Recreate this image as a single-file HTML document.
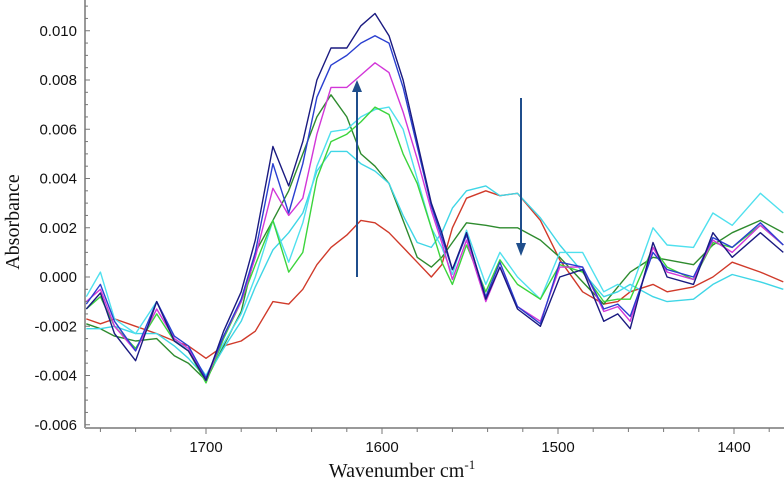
<!DOCTYPE html>
<html><head><meta charset="utf-8"><style>
body{margin:0;background:#fff}
svg{display:block}
.t{font-family:"Liberation Sans",Arial,sans-serif;font-size:15px;fill:#111}
.s{font-family:"Liberation Serif","Times New Roman",serif;font-size:20px;fill:#111}
</style></head><body>
<svg id="c" width="784" height="484"></svg>
<script>
const wn=[1768,1760,1752,1740,1728,1718,1710,1700,1690,1680,1672,1662,1653,1645,1637,1629,1620,1612,1604,1596,1588,1580,1572,1566,1560,1552,1541,1533,1523,1510,1499,1486,1474,1466,1459,1446,1438,1423,1412,1401,1385,1372];
const navy=[-1.3,-0.65,-2.3,-3.4,-1.0,-2.6,-3.0,-4.2,-2.2,-0.6,1.5,5.3,3.7,5.5,8.0,9.3,9.3,10.2,10.7,9.8,8.0,5.5,3.0,1.8,0.3,1.8,-0.9,0.4,-1.3,-2.0,0.0,0.3,-1.8,-1.5,-2.1,1.4,0.0,-0.3,1.8,0.8,1.8,1.0];
const blue=[-1.1,-0.3,-1.8,-3.0,-1.0,-2.4,-2.8,-4.1,-2.4,-0.9,1.0,4.6,2.6,4.6,7.3,8.6,9.0,9.5,9.8,9.5,7.7,5.3,2.9,1.6,0.3,1.7,-0.8,0.6,-1.2,-1.9,0.6,0.4,-1.3,-1.1,-1.6,1.0,0.3,0.0,1.6,1.2,2.2,1.3];
const magenta=[-1.0,-0.5,-2.0,-3.0,-1.3,-2.5,-2.9,-4.2,-2.4,-1.0,0.8,3.6,2.5,3.2,5.8,7.7,7.7,8.2,8.7,8.3,6.7,4.8,2.7,1.4,-0.1,1.5,-1.0,0.4,-1.2,-1.8,0.4,0.4,-1.4,-1.2,-1.8,1.2,0.2,-0.1,1.5,1.0,2.1,1.3];
const green=[-1.3,-0.8,-2.0,-2.9,-1.5,-2.6,-3.0,-4.3,-2.5,-1.0,0.5,2.3,0.2,1.0,4.0,5.5,5.8,6.3,6.9,6.6,5.0,3.8,2.0,0.6,-0.3,1.3,-0.6,0.7,-0.3,-0.9,0.5,0.2,-1.0,-0.9,-0.9,1.2,0.4,-0.1,1.4,1.2,2.1,1.3];
const cyan1=[-0.8,0.2,-1.7,-2.3,-1.0,-2.5,-3.0,-4.0,-2.7,-1.5,0.0,2.3,0.6,2.2,4.5,5.9,6.0,6.5,6.8,6.9,6.0,4.0,2.0,1.2,0.1,1.9,-0.3,1.0,0.0,-0.9,1.0,1.0,-0.6,-0.3,-0.6,2.0,1.3,1.2,2.6,2.1,3.4,2.6];
const cyan2=[-2.1,-2.1,-2.0,-2.3,-2.3,-2.8,-3.3,-4.1,-2.9,-1.8,-0.4,1.1,1.8,2.6,4.3,5.1,5.1,4.6,4.3,3.8,2.5,1.4,1.2,1.8,2.8,3.5,3.7,3.3,3.4,2.4,1.3,0.2,-0.8,-0.6,-0.3,-0.8,-1.0,-0.9,-0.3,0.1,-0.2,-0.5];
const darkgreen=[-1.9,-2.1,-2.4,-2.6,-2.5,-3.2,-3.5,-4.2,-2.8,-1.4,1.0,2.3,3.5,5.0,6.5,7.4,6.5,5.0,4.5,3.8,2.3,0.8,0.4,0.8,1.4,2.2,2.1,2.0,2.0,1.5,0.8,-0.2,-1.1,-0.4,0.2,0.8,0.7,0.5,1.3,1.8,2.3,1.8];
const red=[-1.7,-1.9,-1.7,-2.0,-2.3,-2.6,-2.8,-3.3,-2.8,-2.6,-2.2,-1.0,-1.1,-0.5,0.5,1.2,1.7,2.3,2.2,1.8,1.2,0.6,0.0,0.5,2.0,3.2,3.5,3.3,3.4,2.3,0.7,-0.6,-1.1,-1.0,-0.6,-0.3,-0.6,-0.4,0.0,0.6,0.2,-0.2];
const yTicks=["-0.006","-0.004","-0.002","0.000","0.002","0.004","0.006","0.008","0.010"];
const xTicks=[1700,1600,1500,1400];
const series=[["red-series",red,"#d03a2a"],["dark-green-series",darkgreen,"#2e8b2e"],["cyan-lower-series",cyan2,"#3fd6e6"],["cyan-upper-series",cyan1,"#4fe0ee"],["green-series",green,"#3cd43c"],["magenta-series",magenta,"#d236d8"],["blue-series",blue,"#2a3fd0"],["navy-series",navy,"#1a1a80"]];
const NS="http://www.w3.org/2000/svg",svg=document.getElementById('c');
const X0=85,Y0=428;
function xs(w){return 206+(1700-w)*1.76;}
function ys(v){return 277-v*24.625;}
function mk(t,a,p){const e=document.createElementNS(NS,t);for(const k in a)e.setAttribute(k,a[k]);(p||svg).appendChild(e);return e;}
const defs=mk('defs',{});
const cp=mk('clipPath',{id:'cl'},defs);mk('rect',{x:X0,y:0,width:784-X0,height:Y0},cp);
const g=mk('g',{'clip-path':'url(#cl)'});
series.forEach(s=>{
  const d=wn.map((w,i)=>(i?'L':'M')+xs(w).toFixed(1)+','+ys(s[1][i]).toFixed(1)).join(' ');
  const p=mk('path',{d:d,fill:'none',stroke:s[2],'stroke-width':1.4,'stroke-linejoin':'round'},g);
  
  
});
const ax=mk('line',{x1:X0,y1:0,x2:X0,y2:Y0,stroke:'#999','stroke-width':2});


const axx=mk('line',{x1:X0,y1:Y0,x2:784,y2:Y0,stroke:'#999','stroke-width':2});


for(let v=-6;v<=11;v+=0.5){const y=ys(v);if(y<0)continue;mk('line',{x1:X0,y1:y,x2:X0+(Math.abs(v%2)<0.01?5:3),y2:y,stroke:'#777','stroke-width':1});}
yTicks.forEach(t=>{const el=mk('text',{x:77,y:ys(parseFloat(t)*1000)+5,'text-anchor':'end',class:'t'});el.textContent=t;

});
for(let w=1760;w>=1372;w-=20){const x=xs(w);mk('line',{x1:x,y1:Y0,x2:x,y2:Y0+(w%100==0?6:4),stroke:'#777','stroke-width':1});}
xTicks.forEach(t=>{const el=mk('text',{x:xs(t),y:452,'text-anchor':'middle',class:'t'});el.textContent=t;

});
const a1=mk('line',{x1:357,y1:277,x2:357,y2:90,stroke:'#1f4e8c','stroke-width':2});


mk('polygon',{points:'352,92 357,80 362,92',fill:'#1f4e8c'});
const a2=mk('line',{x1:521,y1:98,x2:521,y2:245,stroke:'#1f4e8c','stroke-width':2});


mk('polygon',{points:'516,243 521,256 526,243',fill:'#1f4e8c'});
</script>
<div style="position:absolute;left:0;top:0;width:784px;height:484px;pointer-events:none">
<svg width="784" height="484" style="position:absolute;left:0;top:0">
<text class="s" transform="translate(19,222) rotate(-90)" text-anchor="middle">Absorbance</text>
<text class="s" x="402" y="477" text-anchor="middle">Wavenumber cm<tspan dy="-8" font-size="13">-1</tspan></text>
</svg></div>
</body></html>
